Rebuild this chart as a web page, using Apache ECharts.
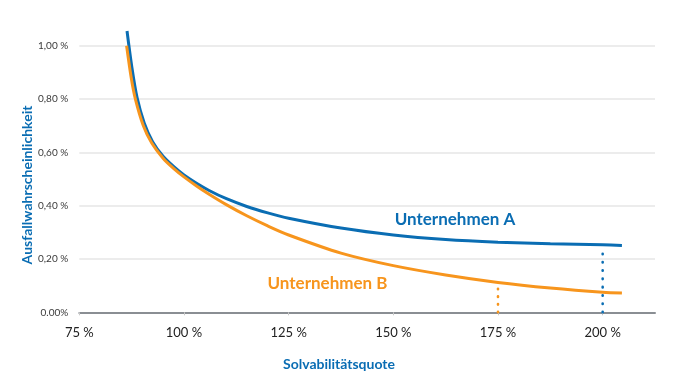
<!DOCTYPE html>
<html>
<head>
<meta charset="utf-8">
<script src="https://cdn.jsdelivr.net/npm/echarts@6/dist/echarts.min.js"></script>
<style>
html,body{margin:0;padding:0;background:#fff;}
#c{width:674px;height:390px;}
</style>
</head>
<body>
<div id="c"></div>
<script>
// Solvabilitätsquote (%) vs. Ausfallwahrscheinlichkeit (%)
var seriesA = [
  [86.4, 1.055], [87.5, 0.925], [88.8, 0.805], [90.5, 0.71], [92.5, 0.64],
  [95, 0.585], [97.5, 0.547], [100, 0.515], [103, 0.484], [106, 0.457],
  [110, 0.427], [115, 0.397], [120, 0.373], [125, 0.353], [137.5, 0.316],
  [150, 0.29], [162.5, 0.273], [175, 0.263], [187.5, 0.257], [200, 0.253],
  [204.6, 0.251]
];
var seriesB = [
  [86.3, 1.00], [87.4, 0.88], [88.4, 0.80], [90.3, 0.70], [92.3, 0.635],
  [95, 0.578], [97.5, 0.54], [100, 0.508], [103, 0.474], [106, 0.443],
  [110, 0.405], [115, 0.362], [120, 0.324], [125, 0.29], [137.5, 0.222],
  [150, 0.175], [162.5, 0.14], [175, 0.112], [187.5, 0.091], [200, 0.075],
  [204.6, 0.072]
];
var markerA = [[200, 0], [200, 0.222]];
var markerB = [[175, 0], [175, 0.088]];
var xTicks = [75, 100, 125, 150, 175, 200];
var yTicks = [0, 0.2, 0.4, 0.6, 0.8, 1.0];
var labelA = 'Unternehmen A';
var labelB = 'Unternehmen B';
var xTitle = 'Solvabilitätsquote';
var yTitle = 'Ausfallwahrscheinlichkeit';

var BLUE = '#0a6db3';
var ORANGE = '#f7951d';
var FONT = 'Lato, "Open Sans", sans-serif';

var chart = echarts.init(document.getElementById('c'), null, {renderer: 'canvas'});
chart.setOption({
  animation: false,
  backgroundColor: '#fff',
  grid: {left: 79.3, right: 19, top: 45.7, bottom: 77.7, containLabel: false},
  xAxis: {
    type: 'value', min: 75, max: 212.5, interval: 25,
    axisLine: {show: true, lineStyle: {color: '#8a8e93', width: 2}},
    axisTick: {show: true, length: 3, lineStyle: {color: '#c8c8c8', width: 1}},
    splitLine: {show: false},
    axisLabel: {
      show: true, margin: 14, color: '#222', fontSize: 13, fontFamily: FONT,
      showMaxLabel: false,
      formatter: function (v) { return xTicks.indexOf(v) >= 0 ? v + ' %' : ''; }
    }
  },
  yAxis: {
    type: 'value', min: 0, max: 1, interval: 0.2,
    axisLine: {show: false}, axisTick: {show: false},
    splitLine: {show: true, lineStyle: {color: '#e6e6e6', width: 1.5}},
    axisLabel: {
      margin: 11, color: '#3a3a3a', fontSize: 10, fontFamily: FONT,
      formatter: function (v) {
        if (Math.abs(v) < 1e-9) return '0.00%';
        return v.toFixed(2).replace('.', ',') + ' %';
      }
    }
  },
  series: [
    {type: 'line', data: seriesA, smooth: 0.3, showSymbol: false, clip: false,
     lineStyle: {color: BLUE, width: 3}, z: 3},
    {type: 'line', data: seriesB, smooth: 0.3, showSymbol: false, clip: false,
     lineStyle: {color: ORANGE, width: 3}, z: 4},
    {type: 'line', data: markerA, showSymbol: false, clip: false,
     lineStyle: {color: BLUE, width: 2.6, type: [0.5, 7.8], cap: 'round'}, z: 5},
    {type: 'line', data: markerB, showSymbol: false, clip: false,
     lineStyle: {color: ORANGE, width: 2.6, type: [0.5, 7.2], cap: 'round'}, z: 5}
  ],
  graphic: [
    {type: 'text', x: 27, y: 185, rotation: Math.PI / 2,
     style: {text: yTitle, fill: BLUE, font: 'bold 14px ' + FONT, textAlign: 'center', textVerticalAlign: 'middle'}},
    {type: 'text', x: 339, y: 364,
     style: {text: xTitle, fill: BLUE, font: 'bold 14px ' + FONT, textAlign: 'center', textVerticalAlign: 'middle'}},
    {type: 'text', x: 455, y: 220,
     style: {text: labelA, fill: BLUE, font: 'bold 17px ' + FONT, textAlign: 'center', textVerticalAlign: 'middle'}},
    {type: 'text', x: 327.5, y: 284,
     style: {text: labelB, fill: ORANGE, font: 'bold 17px ' + FONT, textAlign: 'center', textVerticalAlign: 'middle'}}
  ]
});
</script>
</body>
</html>
